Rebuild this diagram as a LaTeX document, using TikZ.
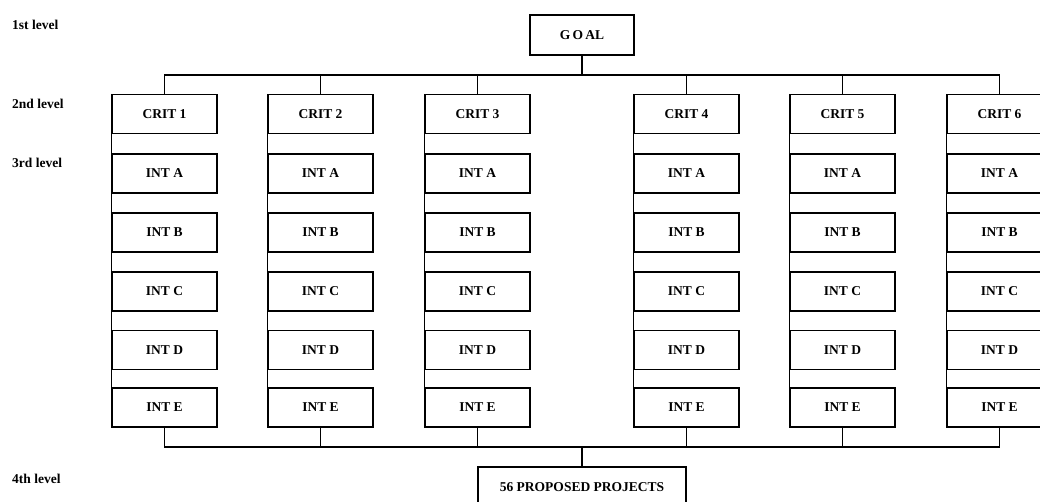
\documentclass[tikz,border=0pt]{standalone}
\usepackage{fontspec}
\setmainfont{Liberation Serif}
\begin{document}
\begin{tikzpicture}[x=1pt,y=-1pt,
  box/.style={draw, line width=1.35pt, minimum width=105pt, minimum height=39pt, inner sep=0pt, font=\fontsize{13.5}{15}\selectfont\bfseries},
  lvl/.style={anchor=west, inner sep=0pt, font=\fontsize{13.5}{15}\selectfont\bfseries},
  conn/.style={line width=1.15pt}]
\useasboundingbox (0,0) rectangle (1040,501);
\clip (0,0) rectangle (1040,501);
% level labels
\node[lvl] (l1) at (12,25) {1st level};
\node[lvl] (l2) at (12,104) {2nd level};
\node[lvl] (l3) at (12,163) {3rd level};
\node[lvl] (l4) at (12,479) {4th level};
% goal
\node[box, minimum width=104pt, minimum height=40pt] (goal) at (582,35) {G\,O\,AL};
% columns
\foreach \i/\x in {1/164.5,2/320.5,3/477.5,4/686.5,5/842.5,6/999.5}{
  \node[box] (c\i) at (\x,114) {CRIT \i};
  \node[box] (c\i a) at (\x,173.5) {INT A};
  \node[box] (c\i b) at (\x,232.5) {INT B};
  \node[box] (c\i c) at (\x,291.5) {INT C};
  \node[box] (c\i d) at (\x,350) {INT D};
  \node[box] (c\i e) at (\x,407.5) {INT E};
  \draw[line width=1.35pt] (c\i.north west) -- (c\i e.south west);
}
% projects
\node[box, minimum width=208pt, minimum height=40pt] (proj) at (582,487) {56 PROPOSED PROJECTS};
% top bar
\coordinate (tb) at (582,75);
\coordinate (bb) at (582,447);
\draw[conn] (c1.north) -- (c1.north |- tb) -- (c6.north |- tb) -- (c6.north);
\foreach \i in {2,3,4,5}{ \draw[conn] (c\i.north) -- (c\i.north |- tb); }
\draw[conn] (goal.south) -- (tb);
% bottom bar
\draw[conn] (c1e.south) -- (c1e.south |- bb) -- (c6e.south |- bb) -- (c6e.south);
\foreach \i in {2,3,4,5}{ \draw[conn] (c\i e.south) -- (c\i e.south |- bb); }
\draw[conn] (proj.north) -- (bb);
\end{tikzpicture}
\end{document}
